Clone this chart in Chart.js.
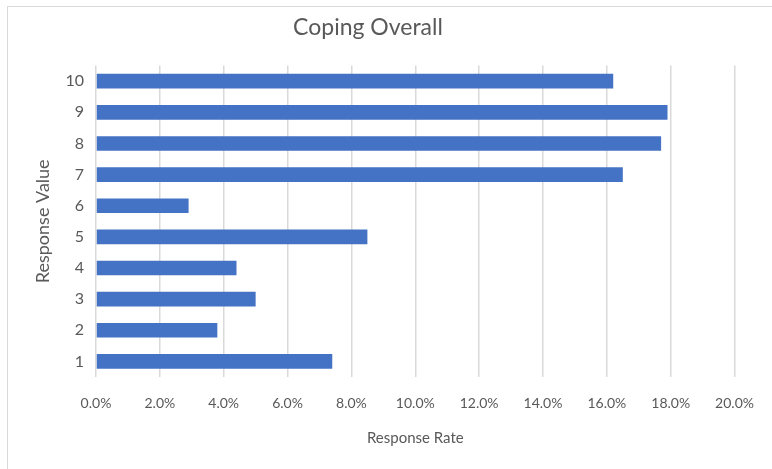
<!DOCTYPE html>
<html>
<head>
<meta charset="utf-8">
<script src="https://cdn.jsdelivr.net/npm/chart.js@4"></script>
<style>
  body { margin: 0; background: #fff; }
  #wrap { position: relative; width: 772px; height: 469px; overflow: hidden; }
  #frame { position: absolute; left: 7px; top: 6px; right: -2px; bottom: -2px;
           border-left: 1px solid #d9d9d9; border-top: 1px solid #d9d9d9; }
  canvas { position: absolute; left: 0; top: 0; }
</style>
</head>
<body>
<div id="wrap">
  <div id="frame"></div>
  <canvas id="chart" width="772" height="469"></canvas>
</div>
<script>
// response values 1..10 and share of answers for each
const responseValues = ['1', '2', '3', '4', '5', '6', '7', '8', '9', '10'];
const responseRates = [0.074, 0.038, 0.050, 0.044, 0.085, 0.029, 0.165, 0.177, 0.179, 0.162];
const rateTicks = [0, 0.02, 0.04, 0.06, 0.08, 0.10, 0.12, 0.14, 0.16, 0.18, 0.20];

const fontFam = 'Lato, "Open Sans", sans-serif';
const grey = '#595959';

new Chart(document.getElementById('chart'), {
    type: 'bar',
    data: {
        labels: responseValues,
        datasets: [{
            data: responseRates,
            backgroundColor: '#4472C4',
            barPercentage: 0.47,
            categoryPercentage: 1
        }]
    },
    options: {
        indexAxis: 'y',
        responsive: false,
        animation: false,
        layout: { padding: { left: 0, right: 36, top: 0, bottom: 0 } },
        plugins: {
            legend: { display: false },
            tooltip: { enabled: false },
            title: {
                display: true,
                text: 'Coping Overall',
                color: grey,
                font: { family: fontFam, size: 23, weight: 'normal' },
                padding: { top: 14, bottom: 24 }
            }
        },
        scales: {
            x: {
                min: 0,
                max: 0.2,
                afterBuildTicks: ax => { ax.ticks = rateTicks.map(v => ({ value: v })); },
                afterFit: ax => { ax.height = 92; },
                grid: { color: '#d9d9d9', lineWidth: 1.5, drawTicks: false },
                border: { display: false },
                ticks: {
                    padding: 18,
                    color: grey,
                    font: { family: fontFam, size: 14 },
                    callback: v => (v * 100).toFixed(1) + '%'
                },
                title: {
                    display: true,
                    text: 'Response Rate',
                    color: grey,
                    font: { family: fontFam, size: 15 },
                    padding: { top: 14, bottom: 22 }
                }
            },
            y: {
                reverse: true,
                afterFit: ax => { ax.width = 96; },
                grid: { display: false, drawTicks: false },
                border: { display: false },
                ticks: {
                    padding: 12,
                    color: grey,
                    font: { family: fontFam, size: 16 }
                },
                title: {
                    display: true,
                    text: 'Response Value',
                    color: grey,
                    font: { family: fontFam, size: 18 },
                    padding: { top: 32, bottom: 0 }
                }
            }
        }
    }
});
</script>
</body>
</html>
